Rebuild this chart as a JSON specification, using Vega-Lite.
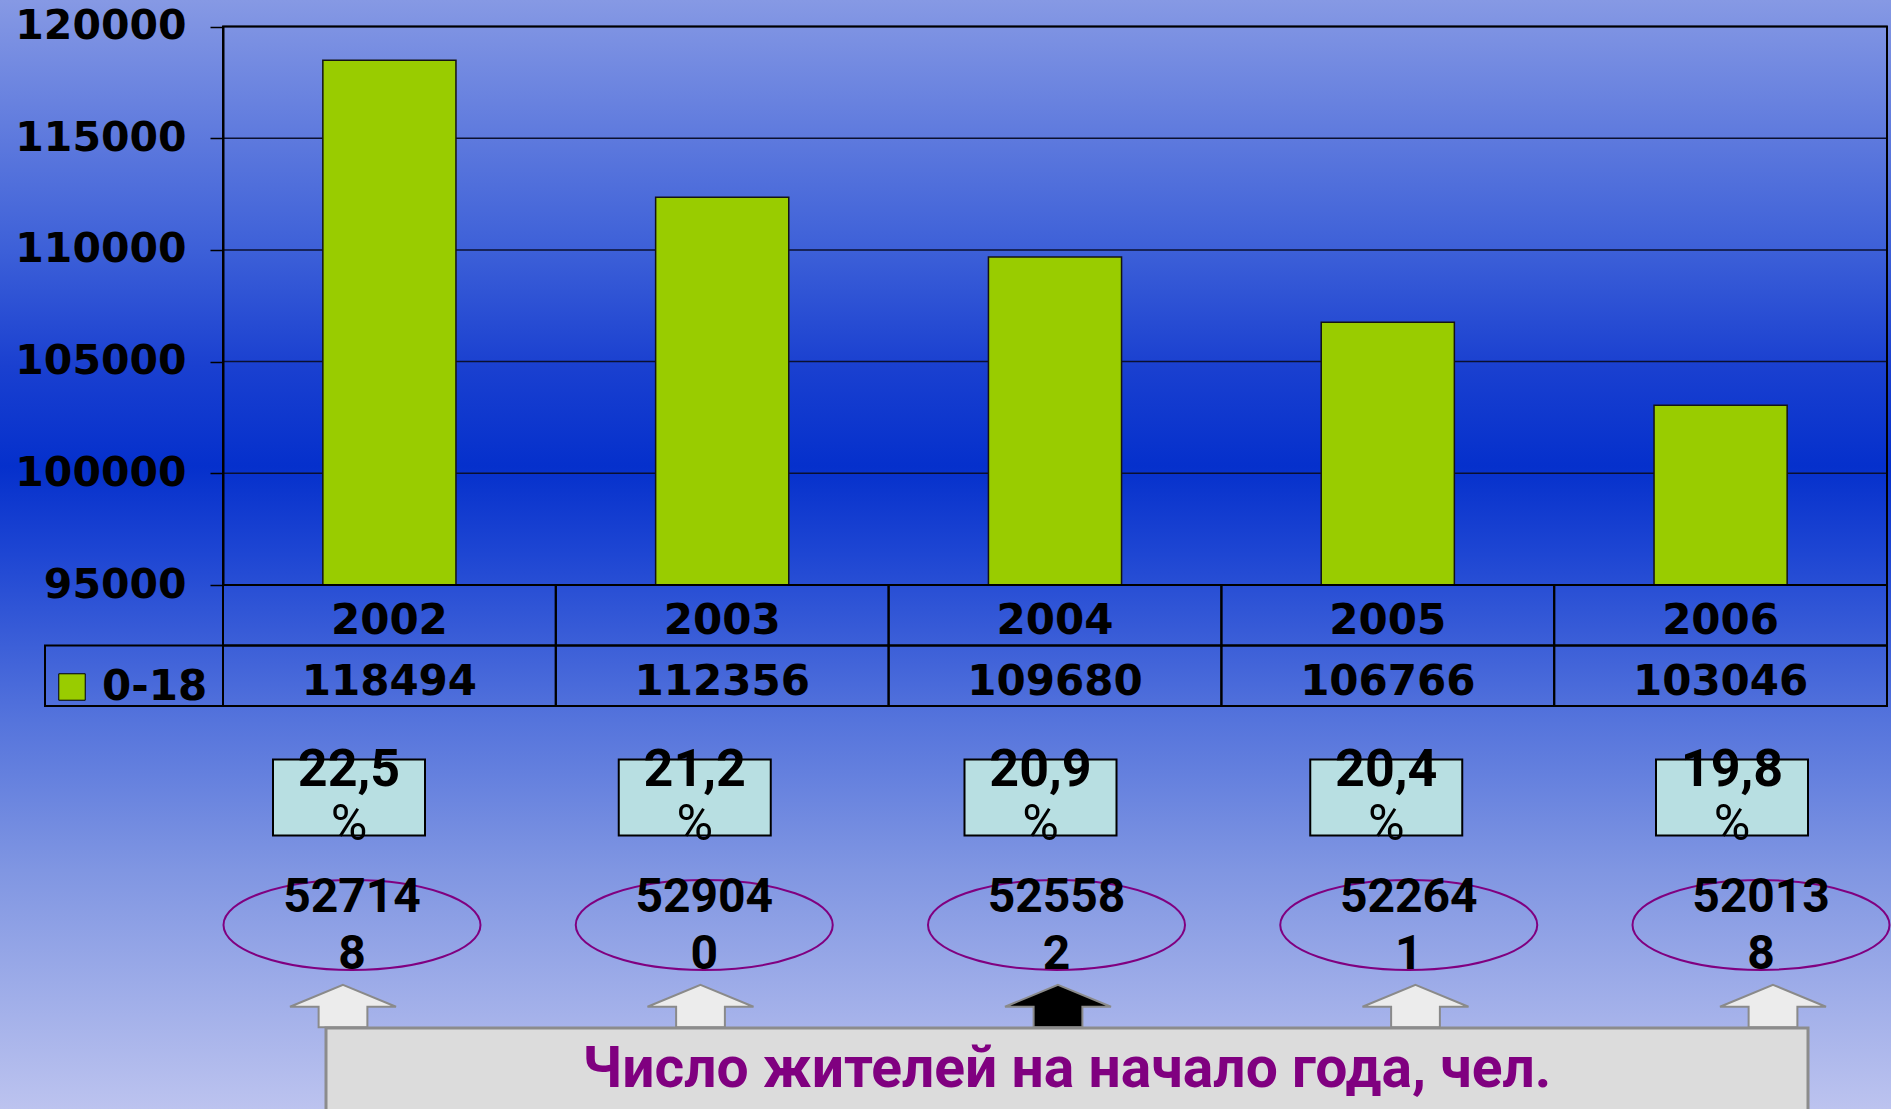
{
  "$schema": "https://vega.github.io/schema/vega-lite/v6.json",
  "width": 1891,
  "height": 1109,
  "autosize": {"type": "none"},
  "padding": 0,
  "background": "#8fa0e6",
  "config": {"view": {"stroke": null}, "font": "DejaVu Sans"},
  "datasets": {
    "main": [
      {"year": "2002", "group": "0-18", "value": 118494},
      {"year": "2003", "group": "0-18", "value": 112356},
      {"year": "2004", "group": "0-18", "value": 109680},
      {"year": "2005", "group": "0-18", "value": 106766},
      {"year": "2006", "group": "0-18", "value": 103046}
    ],
    "ticks": [
      {"tick": 95000}, {"tick": 100000}, {"tick": 105000},
      {"tick": 110000}, {"tick": 115000}, {"tick": 120000}
    ],
    "lower": [
      {"year": "2002", "pct": "22,5", "total": "52714\n8"},
      {"year": "2003", "pct": "21,2", "total": "52904\n0"},
      {"year": "2004", "pct": "20,9", "total": "52558\n2"},
      {"year": "2005", "pct": "20,4", "total": "52264\n1"},
      {"year": "2006", "pct": "19,8", "total": "52013\n8"}
    ]
  },
  "layer": [
    {
      "data": {"values": [{}]},
      "mark": {
        "type": "rect",
        "strokeWidth": 0,
        "fill": {
          "gradient": "linear", "x1": 0, "y1": 0, "x2": 0, "y2": 1,
          "stops": [
            {"offset": 0, "color": "#8699e4"},
            {"offset": 0.225, "color": "#3d60d8"},
            {"offset": 0.33, "color": "#1a40d0"},
            {"offset": 0.42, "color": "#0530cc"},
            {"offset": 0.5, "color": "#1e46d3"},
            {"offset": 0.65, "color": "#5574dc"},
            {"offset": 0.785, "color": "#8096e2"},
            {"offset": 1, "color": "#bcc3ef"}
          ]
        }
      },
      "encoding": {}
    },
    {
      "data": {"name": "ticks"},
      "mark": {"type": "rule", "color": "#0b1030", "strokeWidth": 1.5},
      "encoding": {
        "y": {"field": "tick", "type": "quantitative", "axis": null,
              "scale": {"domain": [95000, 120000], "range": [585, 26.5], "zero": false, "nice": false}},
        "x": {"datum": 0, "type": "quantitative", "axis": null,
              "scale": {"domain": [0, 1], "range": [223, 1887], "zero": false, "nice": false}},
        "x2": {"datum": 1}
      }
    },
    {
      "data": {"name": "main"},
      "mark": {"type": "bar", "stroke": "#141414", "strokeWidth": 1.5},
      "encoding": {
        "x": {"field": "year", "type": "ordinal", "axis": null,
              "scale": {"range": [223, 1887], "paddingInner": 0.6, "paddingOuter": 0.3}},
        "y": {"field": "value", "type": "quantitative",
              "scale": {"domain": [95000, 120000], "range": [585, 26.5], "zero": false, "nice": false},
              "axis": {
                "orient": "left", "offset": -223, "title": null, "zindex": 1,
                "values": [95000, 100000, 105000, 110000, 115000, 120000], "format": "d",
                "domainColor": "#000000", "domainWidth": 2,
                "tickColor": "#000000", "tickWidth": 1.5, "tickSize": 13,
                "grid": false,
                "labelFont": "DejaVu Sans", "labelFontWeight": "bold", "labelFontSize": 41,
                "labelColor": "#000000", "labelPadding": 24
              }},
        "y2": {"datum": 95000},
        "color": {"field": "group", "type": "nominal", "title": null,
                  "scale": {"range": ["#99cc00"]},
                  "legend": {
                    "orient": "none", "legendX": 51, "legendY": 666, "padding": 0,
                    "symbolType": "square", "symbolSize": 700, "symbolStrokeColor": "#000000",
                    "symbolStrokeWidth": 1, "symbolOpacity": 1,
                    "labelFont": "DejaVu Sans", "labelFontWeight": "bold", "labelFontSize": 42,
                    "labelColor": "#000000", "labelOffset": 9
                  }}
      }
    },
    {
      "data": {"values": [{"area": "plot"}]},
      "mark": {"type": "rect", "filled": false, "stroke": "#000000", "strokeWidth": 2},
      "encoding": {
        "x": {"field": "area", "type": "nominal", "axis": null, "scale": {"range": [223, 1887], "padding": 0}},
        "y": {"field": "area", "type": "nominal", "axis": null, "scale": {"range": [26.5, 585], "padding": 0}}
      }
    },
    {
      "data": {"name": "main"},
      "transform": [{"fold": ["year", "value"], "as": ["row", "cell"]}],
      "encoding": {
        "x": {"field": "year", "type": "ordinal", "axis": null, "scale": {"range": [223, 1887], "padding": 0}},
        "y": {"field": "row", "type": "nominal", "axis": null,
              "scale": {"domain": ["year", "value"], "range": [585, 706], "padding": 0}}
      },
      "layer": [
        {"mark": {"type": "rect", "filled": false, "stroke": "#000000", "strokeWidth": 2}},
        {"mark": {"type": "text", "font": "DejaVu Sans", "fontWeight": "bold", "fontSize": 42,
                  "color": "#000000", "baseline": "middle", "dy": 6},
         "encoding": {"text": {"field": "cell", "type": "nominal"}}}
      ]
    },
    {
      "data": {"values": [{"cell": "legend"}]},
      "mark": {"type": "rect", "filled": false, "stroke": "#000000", "strokeWidth": 2},
      "encoding": {
        "x": {"field": "cell", "type": "nominal", "axis": null, "scale": {"range": [45, 223], "padding": 0}},
        "y": {"field": "cell", "type": "nominal", "axis": null, "scale": {"range": [645.5, 706], "padding": 0}}
      }
    },
    {
      "data": {"name": "lower"},
      "encoding": {
        "x": {"field": "year", "type": "ordinal", "axis": null,
              "scale": {"type": "point", "range": [349, 1732], "padding": 0}}
      },
      "layer": [
        {
          "mark": {"type": "point", "shape": "M-1,-0.5L1,-0.5L1,0.5L-1,0.5Z", "size": 23104,
                   "filled": true, "fill": "#b8dfe2", "stroke": "#000000", "strokeWidth": 2, "opacity": 1},
          "encoding": {"y": {"datum": "box", "type": "nominal", "axis": null,
                             "scale": {"type": "point", "domain": ["num", "box", "sign"], "range": [770, 825], "padding": 0}}}
        },
        {
          "mark": {"type": "text", "font": "Roboto", "fontWeight": "bold", "fontSize": 52,
                   "color": "#000000", "baseline": "middle"},
          "encoding": {"y": {"datum": "num", "type": "nominal", "axis": null,
                             "scale": {"type": "point", "domain": ["num", "box", "sign"], "range": [770, 825], "padding": 0}},
                       "text": {"field": "pct", "type": "nominal"}}
        },
        {
          "mark": {"type": "text", "font": "Roboto", "fontWeight": "normal", "fontSize": 50,
                   "color": "#000000", "baseline": "middle"},
          "encoding": {"y": {"datum": "sign", "type": "nominal", "axis": null,
                             "scale": {"type": "point", "domain": ["num", "box", "sign"], "range": [770, 825], "padding": 0}},
                       "text": {"value": "%"}}
        }
      ]
    },
    {
      "data": {"name": "lower"},
      "encoding": {
        "x": {"field": "year", "type": "ordinal", "axis": null,
              "scale": {"type": "point", "range": [352, 1761], "padding": 0}},
        "y": {"datum": "ell", "type": "nominal", "axis": null,
              "scale": {"type": "point", "domain": ["ell"], "range": [925, 925], "padding": 0}}
      },
      "layer": [
        {
          "mark": {"type": "point", "shape": "M-1,0A1,0.35 0 1,0 1,0A1,0.35 0 1,0 -1,0Z", "size": 66049,
                   "filled": false, "stroke": "#800080", "strokeWidth": 2, "opacity": 1}
        },
        {
          "mark": {"type": "text", "font": "Roboto", "fontWeight": "bold", "fontSize": 48,
                   "color": "#000000", "baseline": "middle", "dy": -27,
                   "lineBreak": "\n", "lineHeight": 57},
          "encoding": {"text": {"field": "total", "type": "nominal"}}
        }
      ]
    },
    {
      "data": {"name": "lower"},
      "mark": {"type": "point", "shape": "M0,-0.4L1,0.015L0.46,0.015L0.46,0.4L-0.46,0.4L-0.46,0.015L-1,0.015Z",
               "size": 11236, "filled": true, "stroke": "#8a8a8a", "strokeWidth": 2, "opacity": 1},
      "encoding": {
        "x": {"field": "year", "type": "ordinal", "axis": null,
              "scale": {"type": "point", "range": [343, 1773], "padding": 0}},
        "y": {"datum": "arrow", "type": "nominal", "axis": null,
              "scale": {"type": "point", "domain": ["arrow"], "range": [1006, 1006], "padding": 0}},
        "fill": {"condition": {"test": "datum.year == '2004'", "value": "#000000"}, "value": "#ececec"}
      }
    },
    {
      "data": {"values": [{"caption": "Число жителей на начало года, чел."}]},
      "encoding": {
        "x": {"field": "caption", "type": "nominal", "axis": null, "scale": {"range": [326, 1808], "padding": 0}},
        "y": {"field": "caption", "type": "nominal", "axis": null, "scale": {"range": [1028, 1112], "padding": 0}}
      },
      "layer": [
        {"mark": {"type": "rect", "fill": "#dcdcdc", "stroke": "#8c8c8c", "strokeWidth": 3}},
        {"mark": {"type": "text", "font": "Roboto", "fontWeight": "bold", "fontSize": 57,
                  "color": "#800080", "baseline": "middle"},
         "encoding": {"text": {"field": "caption", "type": "nominal"}}}
      ]
    }
  ],
  "resolve": {
    "scale": {"x": "independent", "y": "independent"},
    "axis": {"x": "independent", "y": "independent"}
  }
}
